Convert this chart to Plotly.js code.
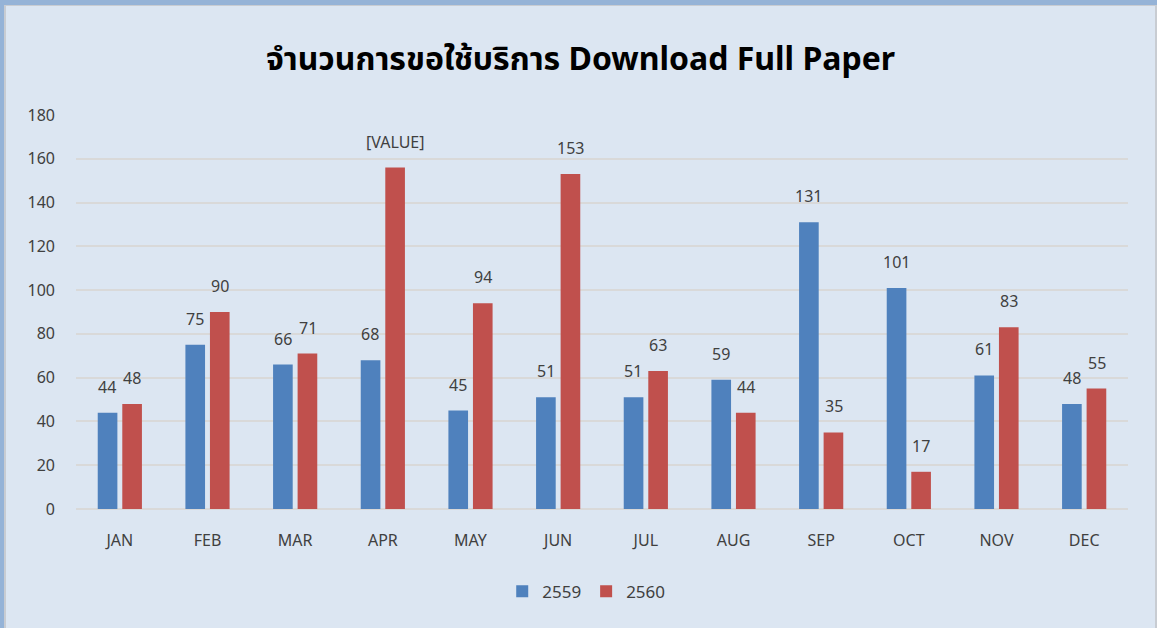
<!DOCTYPE html>
<html><head><meta charset="utf-8">
<script src="https://cdn.plot.ly/plotly-3.0.1.min.js"></script>
<style>
html,body{margin:0;padding:0;background:#95b3d7;width:1157px;height:628px;overflow:hidden;}
#frame{position:absolute;left:4px;top:5px;width:1149px;height:623px;border-left:2px solid #c8ccd2;border-top:1px solid #c8ccd2;border-right:2px solid #c8ccd2;background:#dce6f2;}
#chart{width:1149px;height:623px;}
</style></head><body>
<div id="frame"><div id="chart"></div></div>
<script>
const months = ["JAN","FEB","MAR","APR","MAY","JUN","JUL","AUG","SEP","OCT","NOV","DEC"];
const series2559 = [44,75,66,68,45,51,51,59,131,101,61,48];
const series2560 = [48,90,71,156,94,153,63,44,35,17,83,55];
const labels2559 = series2559.map(String);
const labels2560 = series2560.map(String);
labels2560[3] = "[VALUE]";
const yTicks = [0,20,40,60,80,100,120,140,160,180];

const fontFam = "'Noto Sans', 'Noto Sans Thai', Tahoma, sans-serif";
const traces = [
  {type:"bar", name:"2559", x:months, y:series2559, marker:{color:"#4f81bd"}, hoverinfo:"x+y"},
  {type:"bar", name:"2560", x:months, y:series2560, marker:{color:"#c0504d"}, hoverinfo:"x+y"}
];
const annotations = [];
months.forEach((m,i)=>{
  annotations.push({x:m, y:series2559[i], text:labels2559[i], xref:"x", yref:"y", showarrow:false, yanchor:"bottom", xshift:-12.5, yshift:13, font:{size:16,color:"#404040",family:fontFam}});
  annotations.push({x:m, y:series2560[i], text:labels2560[i], xref:"x", yref:"y", showarrow:false, yanchor:"bottom", xshift:12.5, yshift:13, font:{size:16,color:"#404040",family:fontFam}});
});
const layout = {
  width:1149, height:623,
  paper_bgcolor:"#dce6f2", plot_bgcolor:"#dce6f2",
  margin:{l:70,r:27,t:109,b:120},
  title:{text:"<b>จำนวนการขอใช้บริการ Download Full Paper</b>", x:0.5, xanchor:"center", y:0.915, yanchor:"middle", font:{size:32,color:"#000000",family:fontFam}},
  barmode:"group", bargap:0.44, bargroupgap:0.2,
  xaxis:{type:"category", showgrid:false, showline:false, zeroline:false, ticks:"", ticklabelstandoff:20, tickfont:{size:16,color:"#404040",family:fontFam}, fixedrange:true},
  yaxis:{range:[0,180], tickvals:yTicks, showgrid:true, gridcolor:"#d9d9d9", gridwidth:2, zeroline:true, zerolinecolor:"#d9d9d9", zerolinewidth:2, showline:false, ticks:"", ticklabelstandoff:20, tickfont:{size:16,color:"#404040",family:fontFam}, fixedrange:true},
  showlegend:true,
  legend:{orientation:"h", x:0.485, xanchor:"center", y:-0.21, yanchor:"middle", font:{size:17,color:"#404040",family:fontFam}, bgcolor:"rgba(0,0,0,0)", traceorder:"normal", itemwidth:30},
  annotations:annotations
};
Plotly.newPlot("chart", traces, layout, {displayModeBar:false, staticPlot:true});
</script>
</body></html>
